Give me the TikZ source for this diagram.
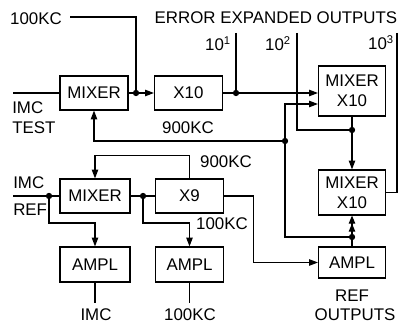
\documentclass[tikz,border=0pt]{standalone}
\usepackage{fontspec}
\setmainfont{Liberation Sans}
\usetikzlibrary{arrows.meta,positioning,calc}

\begin{document}
\begin{tikzpicture}[x=0.025cm, y=-0.025cm,
  font=\fontsize{12}{13.5}\selectfont,
  box/.style={rectangle, draw, line width=0.8pt, minimum width=1.7cm, minimum height=0.85cm, inner sep=2pt, align=center},
  lbl/.style={inner sep=0pt},
  wire/.style={line width=0.8pt},
  arr/.style={wire, -{Triangle[length=2.2mm,width=1.6mm]}},
  arrtwo/.style={wire, -{Triangle[length=2mm,width=1.6mm] Triangle[length=2mm,width=1.6mm]}},
  dot/.style={circle, fill, inner sep=0pt, minimum size=4.5pt}]
\useasboundingbox (0,0) rectangle (399,326);

% boxes
\node[box] (mixA) at (94,93) {MIXER};
\node[box] (xten) at (188.5,93) {X10};
\node[box, minimum width=1.675cm, minimum height=1.25cm] (mixB) at (352,91) {MIXER\\[1pt]X10};
\node[box, minimum width=1.675cm, minimum height=1.125cm] (mixC) at (352,192.5) {MIXER\\[1pt]X10};
\node[box, minimum width=1.75cm] (mixR) at (95,196) {MIXER};
\node[box] (xnine) at (189.5,196) {X9};
\node[box, minimum width=1.75cm, minimum height=0.875cm] (amplI) at (95,264.5) {AMPL};
\node[box, minimum height=0.875cm] (amplK) at (189.5,264.5) {AMPL};
\node[box, minimum width=1.675cm, minimum height=0.775cm] (amplR) at (352,262.5) {AMPL};

% labels
\node[lbl] (t100) at (36,19) {100KC};
\node[lbl] (title) at (276,18) {ERROR EXPANDED OUTPUTS};
\node[lbl] (e1) at (218,44) {10\textsuperscript{1}};
\node[lbl] (e2) at (278,44) {10\textsuperscript{2}};
\node[lbl] (e3) at (381,43) {10\textsuperscript{3}};
\node[lbl, anchor=west] (imcT) at (12,108) {IMC};
\node[lbl, anchor=west] (test) at (12,128) {TEST};
\node[lbl] (f900a) at (188,128) {900KC};
\node[lbl] (f900b) at (226,162) {900KC};
\node[lbl] (f100) at (222,224) {100KC};
\node[lbl, anchor=west] (imcR) at (13,183) {IMC};
\node[lbl, anchor=west] (ref) at (13,210) {REF};
\node[lbl] (outI) at (96,315) {IMC};
\node[lbl] (outK) at (190,315) {100KC};
\node[lbl] (refo) at (352,296) {REF};
\node[lbl] (outs) at (355,315) {OUTPUTS};

% junctions
\node[dot] (j1) at (136,93) {};
\node[dot] (j2) at (236,93) {};
\node[dot] (j3) at (352,130) {};
\node[dot] (j4) at (352,237) {};
\node[dot] (j5) at (285,141) {};
\node[dot] (j6) at (49,196) {};
\node[dot] (j7) at (143,196) {};
\coordinate (inT) at (13,93);
\coordinate (inR) at (13,196);
\coordinate (k100) at (70,17);
\coordinate (o1) at (236,33);
\coordinate (o2) at (297,33);
\coordinate (o3) at (397,33);
\path (mixB.west) ++(0,13) coordinate (inB);

% upper chain
\draw[wire] (inT) -- (mixA.west);
\draw[wire] (k100) -| (j1);
\draw[wire] (mixA.east) -- (j1);
\draw[arr] (j1) -- (xten.west);
\draw[wire] (o1) -- (j2);
\draw[arr] (xten.east) -- (xten.east -| mixB.west);
\draw[wire] (o2) |- (j3);
\draw[wire] (mixB.south) -- (j3);
\draw[arr] (j3) -- (mixC.north);
\draw[wire] (o3) |- (mixC.east);

% feedback from reference ampl
\draw[arrtwo] (amplR.north) -- (mixC.south);
\draw[wire] (j4) -| (j5);
\draw[arr] (j5) |- (inB);
\draw[arr] (j5) -| (mixA.south);

% lower chain
\draw[wire] (inR) -- (mixR.west);
\draw[arr] (j6) -- ++(0,27) -| (amplI.north);
\draw[wire] (mixR.east) -- (xnine.west);
\draw[arr] (j7) -- ++(0,27) -| (amplK.north);
\draw[arr] (xnine.north) -- ++(0,-23) -| (mixR.north);
\draw[arr] (xnine.east) -- ++(29,0) |- (amplR.west);
\draw[wire] (amplI.south) -- ++(0,20);
\draw[wire] (amplK.south) -- ++(0,20);
\end{tikzpicture}
\end{document}
